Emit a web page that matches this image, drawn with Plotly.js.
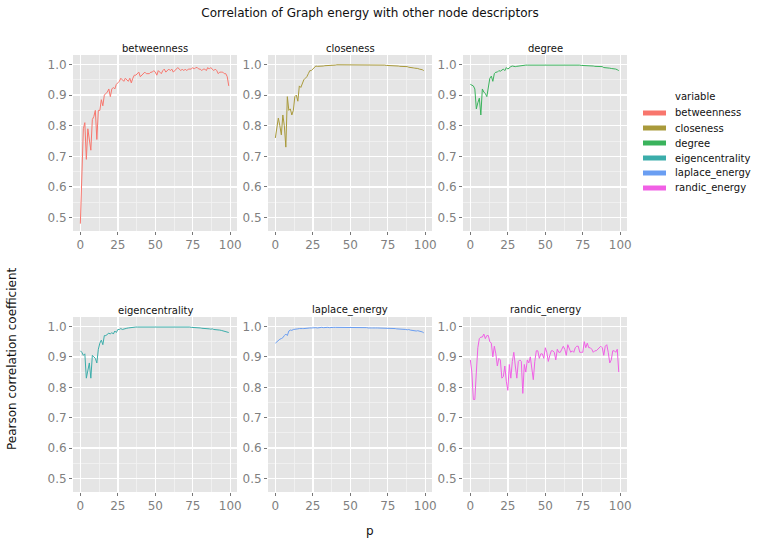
<!DOCTYPE html>
<html>
<head>
<meta charset="utf-8">
<script src="https://cdn.plot.ly/plotly-3.0.1.min.js"></script>
<style>
  html, body { margin: 0; padding: 0; background: #fff; }
  #chart { width: 759px; height: 545px; }
</style>
</head>
<body>
<div id="chart"></div>
<script>
// p runs 0..99
var p = [];
for (var k = 0; k < 100; k++) p.push(k);

var variables = ['betweenness', 'closeness', 'degree', 'eigencentrality', 'laplace_energy', 'randic_energy'];

var colors = ['#f8766d', '#a99a3b', '#3ab35c', '#3badaa', '#6a9ef2', '#f160e5'];

var betweenness = [
  0.48, 0.63, 0.79, 0.81, 0.69, 0.79, 0.75, 0.72, 0.82, 0.83,
  0.85, 0.755, 0.85, 0.85, 0.885, 0.865, 0.90, 0.905, 0.91, 0.92,
  0.895, 0.92, 0.925, 0.92, 0.935, 0.94, 0.945, 0.955, 0.95, 0.945,
  0.955, 0.95, 0.945, 0.955, 0.94, 0.955, 0.965, 0.965, 0.97, 0.975,
  0.96, 0.965, 0.97, 0.975, 0.97, 0.97, 0.97, 0.975, 0.975, 0.98,
  0.975, 0.965, 0.98, 0.975, 0.97, 0.98, 0.985, 0.975, 0.98, 0.985,
  0.98, 0.985, 0.975, 0.98, 0.985, 0.99, 0.985, 0.98, 0.985, 0.98,
  0.985, 0.98, 0.985, 0.985, 0.985, 0.99, 0.985, 0.99, 0.99, 0.985,
  0.985, 0.98, 0.985, 0.985, 0.98, 0.99, 0.985, 0.99, 0.985, 0.98,
  0.985, 0.98, 0.97, 0.975, 0.975, 0.975, 0.97, 0.97, 0.96, 0.93
];

var closeness = [
  0.76, 0.80, 0.825, 0.80, 0.77, 0.835, 0.80, 0.73, 0.895, 0.85,
  0.855, 0.835, 0.85, 0.895, 0.90, 0.88, 0.93, 0.925, 0.94, 0.95,
  0.955, 0.96, 0.97, 0.98, 0.98, 0.985, 0.99, 0.995, 0.994, 0.994,
  0.994, 0.993, 0.995, 0.996, 0.996, 0.997, 0.997, 0.998, 0.998, 0.998,
  0.998, 0.999, 0.999, 0.999, 0.999, 0.999, 0.999, 1.0, 1.0, 1.0,
  1.0, 1.0, 1.0, 1.0, 1.0, 1.0, 1.0, 1.0, 1.0, 1.0,
  1.0, 1.0, 1.0, 1.0, 0.999, 0.999, 0.999, 0.999, 0.999, 0.999,
  0.998, 0.998, 0.998, 0.998, 0.997, 0.997, 0.997, 0.997, 0.996, 0.996,
  0.995, 0.995, 0.995, 0.994, 0.994, 0.993, 0.993, 0.992, 0.993, 0.991,
  0.991, 0.99, 0.989, 0.988, 0.988, 0.987, 0.985, 0.985, 0.983, 0.98
];

var degree = [
  0.935, 0.933, 0.93, 0.92, 0.855, 0.875, 0.89, 0.835, 0.92, 0.91,
  0.905, 0.895, 0.93, 0.955, 0.962, 0.945, 0.97, 0.975, 0.975, 0.98,
  0.978, 0.982, 0.985, 0.98, 0.99, 0.985, 0.99, 0.993, 0.995, 0.993,
  0.993, 0.994, 0.995, 0.996, 0.996, 0.997, 0.997, 0.998, 0.998, 0.998,
  0.998, 0.999, 0.999, 0.999, 0.999, 0.999, 0.999, 1.0, 1.0, 1.0,
  1.0, 1.0, 1.0, 1.0, 1.0, 1.0, 1.0, 1.0, 1.0, 1.0,
  1.0, 1.0, 1.0, 1.0, 0.999, 0.999, 0.999, 0.999, 0.999, 0.999,
  0.998, 0.998, 0.998, 0.998, 0.997, 0.997, 0.997, 0.996, 0.996, 0.996,
  0.995, 0.995, 0.995, 0.994, 0.994, 0.993, 0.993, 0.992, 0.993, 0.99,
  0.99, 0.99, 0.988, 0.988, 0.987, 0.987, 0.985, 0.985, 0.983, 0.98
];

var eigencentrality = [
  0.92, 0.915, 0.905, 0.91, 0.83, 0.86, 0.88, 0.83, 0.905, 0.90,
  0.895, 0.88, 0.925, 0.945, 0.955, 0.94, 0.97, 0.97, 0.975, 0.978,
  0.975, 0.98, 0.975, 0.985, 0.98, 0.99, 0.99, 0.993, 0.99, 0.992,
  0.993, 0.994, 0.995, 0.996, 0.996, 0.997, 0.997, 0.998, 0.998, 0.998,
  0.998, 0.999, 0.999, 0.999, 0.999, 0.999, 0.999, 1.0, 1.0, 1.0,
  1.0, 1.0, 1.0, 1.0, 1.0, 1.0, 1.0, 1.0, 1.0, 1.0,
  1.0, 1.0, 1.0, 1.0, 0.999, 0.999, 0.999, 0.999, 0.999, 0.999,
  0.998, 0.998, 0.998, 0.998, 0.997, 0.997, 0.997, 0.996, 0.996, 0.995,
  0.995, 0.994, 0.994, 0.993, 0.993, 0.992, 0.992, 0.991, 0.992, 0.99,
  0.99, 0.989, 0.988, 0.988, 0.987, 0.986, 0.985, 0.984, 0.983, 0.98
];

var laplace_energy = [
  0.945, 0.95, 0.955, 0.958, 0.96, 0.963, 0.97, 0.975, 0.97, 0.985,
  0.988, 0.987, 0.99, 0.99, 0.991, 0.992, 0.993, 0.992, 0.993, 0.993,
  0.994, 0.993, 0.994, 0.995, 0.995, 0.996, 0.996, 0.996, 0.995, 0.996,
  0.996, 0.997, 0.996, 0.997, 0.997, 0.997, 0.996, 0.997, 0.997, 0.997,
  0.997, 0.997, 0.998, 0.997, 0.997, 0.998, 0.998, 0.997, 0.998, 0.998,
  0.998, 0.998, 0.997, 0.998, 0.997, 0.997, 0.997, 0.996, 0.997, 0.996,
  0.996, 0.996, 0.995, 0.996, 0.995, 0.995, 0.996, 0.995, 0.995, 0.995,
  0.994, 0.995, 0.994, 0.994, 0.995, 0.994, 0.994, 0.993, 0.994, 0.993,
  0.993, 0.992, 0.992, 0.991, 0.992, 0.99, 0.99, 0.99, 0.989, 0.99,
  0.988, 0.987, 0.988, 0.986, 0.985, 0.986, 0.985, 0.984, 0.982, 0.979
];

var randic_energy = [
  0.89, 0.85, 0.76, 0.76, 0.85, 0.93, 0.96, 0.965, 0.965, 0.975,
  0.96, 0.97, 0.97, 0.95, 0.945, 0.90, 0.935, 0.91, 0.87, 0.895,
  0.89, 0.83, 0.835, 0.87, 0.82, 0.79, 0.875, 0.83, 0.885, 0.915,
  0.87, 0.83, 0.885, 0.89, 0.885, 0.78, 0.875, 0.85, 0.89, 0.88,
  0.90, 0.865, 0.825, 0.885, 0.92, 0.92, 0.895, 0.91, 0.91, 0.895,
  0.93, 0.915, 0.885, 0.905, 0.92, 0.92, 0.915, 0.89, 0.925, 0.915,
  0.915, 0.925, 0.935, 0.925, 0.905, 0.94, 0.93, 0.915, 0.92, 0.915,
  0.93, 0.935, 0.935, 0.915, 0.915, 0.915, 0.95, 0.93, 0.945, 0.93,
  0.93, 0.925, 0.915, 0.92, 0.92, 0.925, 0.93, 0.935, 0.93, 0.905,
  0.935, 0.94, 0.915, 0.88, 0.89, 0.92, 0.92, 0.915, 0.925, 0.85
];

var series = [betweenness, closeness, degree, eigencentrality, laplace_energy, randic_energy];

var xTicks = [0, 25, 50, 75, 100];
var yTicks = [0.5, 0.6, 0.7, 0.8, 0.9, 1.0];

// panel geometry (pixels of the 759x545 page)
var W = 759, H = 545;
var colPx = [[73, 237], [268, 432], [463, 627]];
var rowPx = [[55, 231], [317, 492]];

var textFont = 'DejaVu Sans, sans-serif';

var data = [];
var layout = {
  width: W,
  height: H,
  margin: { t: 0, b: 0, l: 0, r: 0 },
  paper_bgcolor: '#ffffff',
  plot_bgcolor: '#e5e5e5',
  showlegend: false,
  font: { family: textFont, size: 12, color: '#222' },
  title: {
    text: 'Correlation of Graph energy with other node descriptors',
    font: { family: textFont, size: 12, color: '#111' },
    x: 370 / W, xanchor: 'center',
    y: 1 - 13 / H, yanchor: 'middle', yref: 'container'
  },
  annotations: [],
  shapes: []
};

variables.forEach(function (name, i) {
  var n = i + 1;
  var col = i % 3, row = Math.floor(i / 3);
  var suffix = n === 1 ? '' : n;

  data.push({
    x: p,
    y: series[i],
    type: 'scatter',
    mode: 'lines',
    name: name,
    line: { color: colors[i], width: 1 },
    xaxis: 'x' + suffix,
    yaxis: 'y' + suffix,
    hoverinfo: 'x+y+name'
  });

  layout['xaxis' + suffix] = {
    domain: [colPx[col][0] / W, colPx[col][1] / W],
    anchor: 'y' + suffix,
    range: [-4.9, 104.5],
    tickmode: 'array',
    tickvals: xTicks,
    ticks: 'outside', ticklen: 3, tickwidth: 1, tickcolor: '#777',
    tickfont: { family: textFont, size: 12, color: '#7f7f7f' },
    showgrid: true, gridcolor: '#ffffff', gridwidth: 1.4,
    minor: { dtick: 12.5, tick0: 0, showgrid: true, gridcolor: '#f3f3f3', gridwidth: 0.8 },
    zeroline: false, showline: false, fixedrange: true
  };
  layout['yaxis' + suffix] = {
    domain: [1 - rowPx[row][1] / H, 1 - rowPx[row][0] / H],
    anchor: 'x' + suffix,
    range: [0.456, 1.031],
    tickmode: 'array',
    tickvals: yTicks,
    tickformat: '.1f',
    ticks: 'outside', ticklen: 3, tickwidth: 1, tickcolor: '#777',
    tickfont: { family: textFont, size: 12, color: '#7f7f7f' },
    showgrid: true, gridcolor: '#ffffff', gridwidth: 1.4,
    minor: { dtick: 0.05, tick0: 0, showgrid: true, gridcolor: '#f3f3f3', gridwidth: 0.8 },
    zeroline: false, showline: false, fixedrange: true
  };

  // facet strip label
  layout.annotations.push({
    text: name,
    xref: 'paper', yref: 'paper',
    x: (colPx[col][0] + colPx[col][1]) / 2 / W,
    y: 1 - (rowPx[row][0] - 7) / H,
    xanchor: 'center', yanchor: 'middle',
    showarrow: false,
    font: { family: textFont, size: 10, color: '#111' }
  });

  // legend entry
  var ly = 113 + 15 * i;
  layout.shapes.push({
    type: 'line', xref: 'paper', yref: 'paper',
    x0: 643 / W, x1: 666 / W, y0: 1 - ly / H, y1: 1 - ly / H,
    line: { color: colors[i], width: 5 }
  });
  layout.annotations.push({
    text: name,
    xref: 'paper', yref: 'paper',
    x: 673 / W, y: 1 - ly / H,
    xanchor: 'left', yanchor: 'middle',
    showarrow: false,
    font: { family: textFont, size: 10, color: '#111' }
  });
});

// legend title
layout.annotations.push({
  text: 'variable',
  xref: 'paper', yref: 'paper',
  x: 673 / W, y: 1 - 97 / H,
  xanchor: 'left', yanchor: 'middle',
  showarrow: false,
  font: { family: textFont, size: 10, color: '#111' }
});

// shared axis titles
layout.annotations.push({
  text: 'Pearson correlation coefficient',
  xref: 'paper', yref: 'paper',
  x: 12 / W, y: 1 - 359 / H,
  xanchor: 'center', yanchor: 'middle',
  textangle: -90,
  showarrow: false,
  font: { family: textFont, size: 12, color: '#111' }
});
layout.annotations.push({
  text: 'p',
  xref: 'paper', yref: 'paper',
  x: 370 / W, y: 1 - 531 / H,
  xanchor: 'center', yanchor: 'middle',
  showarrow: false,
  font: { family: textFont, size: 12, color: '#111' }
});

Plotly.newPlot('chart', data, layout, { displayModeBar: false, staticPlot: true });
</script>
</body>
</html>
